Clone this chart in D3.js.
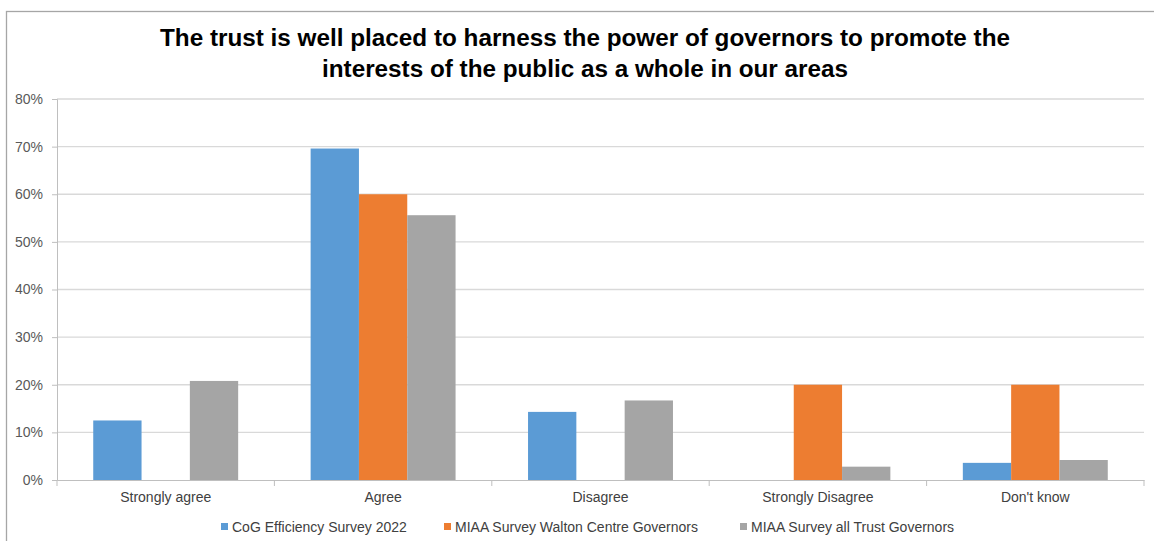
<!DOCTYPE html>
<html>
<head>
<meta charset="utf-8">
<script src="https://cdn.jsdelivr.net/npm/d3@7"></script>
<style>
  body { margin: 0; background: #fff; }
  svg { display: block; font-family: "Liberation Sans", Arial, sans-serif; }
</style>
</head>
<body>
<svg id="chart" width="1154" height="541"></svg>
<script>
'use strict'

const categories = ['Strongly agree', 'Agree', 'Disagree', 'Strongly Disagree', "Don't know"]
const seriesNames = ['CoG Efficiency Survey 2022', 'MIAA Survey Walton Centre Governors', 'MIAA Survey all Trust Governors']
const seriesColors = ['#5b9bd5', '#ed7d31', '#a5a5a5']
const cogValues = [12.5, 69.6, 14.3, 0, 3.6]
const waltonValues = [0, 60, 0, 20, 20]
const allTrustValues = [20.8, 55.6, 16.7, 2.8, 4.2]
const yTicks = [0, 10, 20, 30, 40, 50, 60, 70, 80]
const titleLines = ['The trust is well placed to harness the power of governors to promote the',
    'interests of the public as a whole in our areas']

const series = [cogValues, waltonValues, allTrustValues]

let svg = d3.select('#chart')

// chart frame (right and bottom edges fall outside the picture)
svg.append('rect')
    .attr('x', 6.5).attr('y', 11.5)
    .attr('width', 1160).attr('height', 540)
    .attr('fill', 'none').attr('stroke', '#a6a6a6').attr('stroke-width', 1.3)

let title = svg.append('g').attr('font-weight', 'bold').attr('font-size', 23).attr('text-anchor', 'middle')
title.append('text').attr('x', 585).attr('y', 46).attr('textLength', 850).attr('lengthAdjust', 'spacingAndGlyphs').text(titleLines[0])
title.append('text').attr('x', 585).attr('y', 77).attr('textLength', 526).attr('lengthAdjust', 'spacingAndGlyphs').text(titleLines[1])

let plotLeft = 57, plotRight = 1144, plotTop = 99, plotBottom = 480

let x = d3.scaleBand().domain(categories).range([plotLeft, plotRight])
let y = d3.scaleLinear().domain([0, 80]).range([plotBottom, plotTop])
let barW = x.bandwidth() / 4.5

// gridlines
svg.append('g').selectAll('line').data(yTicks.filter(d => d > 0)).enter().append('line')
    .attr('x1', plotLeft).attr('x2', plotRight)
    .attr('y1', d => y(d)).attr('y2', d => y(d))
    .attr('stroke', '#d9d9d9').attr('stroke-width', 1.3)

// y axis
let yAxis = svg.append('g').attr('transform', `translate(${plotLeft},0)`)
    .call(d3.axisLeft(y).tickValues(yTicks).tickFormat(d => d + '%').tickSize(5).tickPadding(9))
yAxis.select('.domain').attr('stroke', '#bfbfbf')
yAxis.selectAll('.tick line').attr('stroke', '#bfbfbf')
yAxis.selectAll('text').attr('font-size', 14).attr('fill', '#595959')

// bars
categories.forEach((c, i) => {
    series.forEach((s, k) => {
        if (s[i] <= 0) return
        svg.append('rect')
            .attr('x', x(c) + x.bandwidth() / 2 - 1.5 * barW + k * barW)
            .attr('y', y(s[i]))
            .attr('width', barW)
            .attr('height', y(0) - y(s[i]))
            .attr('fill', seriesColors[k])
    })
})

// x axis
let xAxis = svg.append('g').attr('transform', `translate(0,${plotBottom})`)
    .call(d3.axisBottom(x).tickSize(0).tickPadding(12))
xAxis.select('.domain').attr('stroke', '#bfbfbf')
xAxis.selectAll('text').attr('font-size', 14).attr('fill', '#404040')
svg.append('g').selectAll('line').data(categories.map(c => x(c)).concat([plotRight])).enter().append('line')
    .attr('x1', d => d).attr('x2', d => d)
    .attr('y1', plotBottom).attr('y2', plotBottom + 6)
    .attr('stroke', '#bfbfbf')

// legend
let legendX = [221, 444, 740]
let legend = svg.append('g').selectAll('g').data(seriesNames).enter().append('g')
    .attr('transform', (d, i) => `translate(${legendX[i]},527)`)
legend.append('rect').attr('x', 0).attr('y', -4).attr('width', 7).attr('height', 7)
    .attr('fill', (d, i) => seriesColors[i])
legend.append('text').attr('x', 11).attr('y', 5).attr('font-size', 14).attr('fill', '#404040').text(d => d)
</script>
</body>
</html>
